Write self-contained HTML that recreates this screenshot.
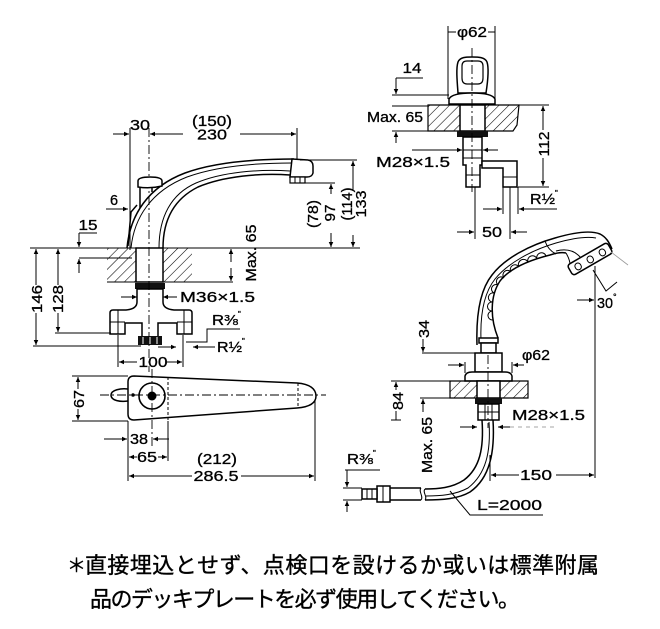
<!DOCTYPE html>
<html><head><meta charset="utf-8">
<style>
html,body{margin:0;padding:0;background:#fff}
svg{display:block}
.o{fill:none;stroke:#000;stroke-width:1.5}
.ow{fill:#fff;stroke:#000;stroke-width:1.5}
.d{fill:none;stroke:#000;stroke-width:1}
.c{fill:none;stroke:#000;stroke-width:0.9;stroke-dasharray:9 3 2 3}
.t{font-family:"Liberation Sans",sans-serif;font-size:14.5px;fill:#000;stroke:#000;stroke-width:0.3}
.j{font-family:"Liberation Sans","Noto Sans CJK JP",sans-serif;font-size:22px;fill:#000;stroke:#000;stroke-width:0.35}
</style></head>
<body>
<svg width="660" height="629" viewBox="0 0 660 629" xmlns="http://www.w3.org/2000/svg">
<defs>
<marker id="a" viewBox="0 0 10 10" refX="10" refY="5" markerWidth="8" markerHeight="5" markerUnits="userSpaceOnUse" orient="auto"><path d="M0,0.5 L10,5 L0,9.5 z" fill="#000"/></marker>
<pattern id="h" patternUnits="userSpaceOnUse" width="7" height="7" patternTransform="rotate(45)"><line x1="0" y1="0" x2="0" y2="7" stroke="#000" stroke-width="1.1"/></pattern>
</defs>

<!-- ================= FAUCET 1 (left top) ================= -->
<line class="d" x1="30" y1="248" x2="360" y2="248"/>
<path d="M107,248 H136 V282 H107 Z" fill="url(#h)"/>
<path d="M163,248 H192 V282 H163 Z" fill="url(#h)"/>
<line class="d" x1="107" y1="282" x2="233" y2="282"/>
<rect class="ow" x="136" y="248" width="27" height="34"/>
<rect x="135" y="283" width="30" height="6" fill="#111"/>
<path class="ow" d="M137,289 V302 Q137,309 126,310 H113 Q110,310 110,313 V334 H125 V323 H142 V337 H158 V323 H177 V334 H192 V313 Q192,310 189,310 H174 Q163,309 163,302 V289 Z"/>
<line class="d" x1="110" y1="322" x2="125" y2="322"/>
<line class="d" x1="177" y1="322" x2="192" y2="322"/>
<line class="d" x1="118" y1="310" x2="118" y2="334"/>
<line class="d" x1="184" y1="310" x2="184" y2="334"/>
<rect x="138" y="336" width="24" height="9" fill="#111"/>
<line x1="143" y1="337" x2="143" y2="344" stroke="#fff" stroke-width="1"/>
<line x1="150" y1="337" x2="150" y2="344" stroke="#fff" stroke-width="1"/>
<line x1="157" y1="337" x2="157" y2="344" stroke="#fff" stroke-width="1"/>
<line class="d" x1="121" y1="297" x2="137" y2="297" marker-end="url(#a)"/>
<line class="d" x1="177" y1="297" x2="163" y2="297" marker-end="url(#a)"/>
<text class="t" x="180" y="302" textLength="75" lengthAdjust="spacingAndGlyphs">M36×1.5</text>
<text class="t" x="212" y="325" textLength="26" lengthAdjust="spacingAndGlyphs">R⅜</text><text class="t" x="238" y="317" style="font-size:8px">"</text>
<polyline class="d" points="240,329 207,329 207,342 186,342"/>
<text class="t" x="217" y="352" textLength="25" lengthAdjust="spacingAndGlyphs">R½</text><text class="t" x="242" y="344" style="font-size:8px">"</text>
<line class="d" x1="215" y1="347" x2="193" y2="347" marker-end="url(#a)"/>
<line class="d" x1="158" y1="347" x2="176" y2="347" marker-end="url(#a)"/>
<line class="d" x1="33" y1="346" x2="141" y2="346"/>
<line class="d" x1="55" y1="333" x2="111" y2="333"/>
<line class="d" x1="36" y1="285" x2="36" y2="249" marker-end="url(#a)"/>
<line class="d" x1="36" y1="313" x2="36" y2="345" marker-end="url(#a)"/>
<line class="d" x1="58" y1="285" x2="58" y2="249" marker-end="url(#a)"/>
<line class="d" x1="58" y1="313" x2="58" y2="332" marker-end="url(#a)"/>
<text class="t" transform="translate(37,299) rotate(-90)" x="0" y="5" text-anchor="middle" textLength="28" lengthAdjust="spacingAndGlyphs">146</text>
<text class="t" transform="translate(58,299) rotate(-90)" x="0" y="5" text-anchor="middle" textLength="28" lengthAdjust="spacingAndGlyphs">128</text>
<line class="d" x1="118" y1="335" x2="118" y2="367"/>
<line class="d" x1="183" y1="335" x2="183" y2="367"/>
<line class="d" x1="137" y1="362" x2="119" y2="362" marker-end="url(#a)"/>
<line class="d" x1="166" y1="362" x2="182" y2="362" marker-end="url(#a)"/>
<text class="t" x="153" y="367" text-anchor="middle" textLength="29" lengthAdjust="spacingAndGlyphs">100</text>
<line class="c" x1="149" y1="128" x2="149" y2="372"/>
<path class="o" d="M127,248 C130,215 148,187 185,173 C215,162 255,159 294,159"/>
<path class="d" d="M131,248 C134,218 151,191 187,177 C217,166 255,163 292,163"/>
<path class="o" d="M163,248 C163,220 174,199 198,187 C224,176 260,173 290,175"/>
<path class="d" d="M159,248 C159,217 171,194 196,183 C222,172 258,169 290,171"/>
<path class="ow" d="M292,159 L308,160 Q313,161 313,166 L313,173 Q312,177 307,177 L290,177 Z"/>
<rect x="290" y="177" width="15" height="6" fill="#fff" stroke="#000" stroke-width="1.2"/>
<line class="d" x1="295" y1="177" x2="295" y2="183"/><line class="d" x1="300" y1="177" x2="300" y2="183"/>
<path class="ow" d="M138,187 V181 Q138,177 150,177 Q162,177 162,181 V186 Q150,189 138,187 Z"/>
<line class="o" x1="140" y1="188" x2="140" y2="208"/>
<line class="o" x1="152" y1="188" x2="152" y2="192"/>
<path class="o" d="M128,246 L131,212 L137,205"/>
<line class="d" x1="130" y1="128" x2="130" y2="250"/>
<line class="d" x1="297" y1="128" x2="297" y2="159"/>
<line class="d" x1="113" y1="134" x2="129" y2="134" marker-end="url(#a)"/>
<line class="d" x1="183" y1="134" x2="150" y2="134" marker-end="url(#a)"/>
<line class="d" x1="240" y1="134" x2="296" y2="134" marker-end="url(#a)"/>
<text class="t" x="140" y="130" text-anchor="middle" textLength="20" lengthAdjust="spacingAndGlyphs">30</text>
<text class="t" x="212" y="126" text-anchor="middle" textLength="40" lengthAdjust="spacingAndGlyphs">(150)</text>
<text class="t" x="212" y="139.5" text-anchor="middle" textLength="30" lengthAdjust="spacingAndGlyphs">230</text>
<text class="t" x="114" y="205" text-anchor="middle">6</text>
<line class="d" x1="106" y1="209" x2="128" y2="209" marker-end="url(#a)"/>
<text class="t" x="88" y="230" text-anchor="middle" textLength="19" lengthAdjust="spacingAndGlyphs">15</text>
<line class="d" x1="79" y1="233" x2="97" y2="233"/>
<line class="d" x1="79" y1="233" x2="79" y2="247" marker-end="url(#a)"/>
<line class="d" x1="79" y1="273" x2="79" y2="259" marker-end="url(#a)"/>
<line class="d" x1="79" y1="258" x2="132" y2="258"/>
<line class="d" x1="231" y1="262" x2="231" y2="249" marker-end="url(#a)"/>
<line class="d" x1="231" y1="268" x2="231" y2="281" marker-end="url(#a)"/>
<text class="t" transform="translate(251,253) rotate(-90)" x="0" y="5" text-anchor="middle" textLength="57" lengthAdjust="spacingAndGlyphs">Max. 65</text>
<line class="d" x1="290" y1="183" x2="335" y2="183"/>
<line class="d" x1="300" y1="160" x2="357" y2="160"/>
<line class="d" x1="331" y1="194" x2="331" y2="184" marker-end="url(#a)"/>
<line class="d" x1="331" y1="233" x2="331" y2="247" marker-end="url(#a)"/>
<line class="d" x1="353" y1="190" x2="353" y2="161" marker-end="url(#a)"/>
<line class="d" x1="353" y1="235" x2="353" y2="247" marker-end="url(#a)"/>
<text class="t" transform="translate(313,214) rotate(-90)" x="0" y="5" text-anchor="middle" textLength="28" lengthAdjust="spacingAndGlyphs">(78)</text>
<text class="t" transform="translate(330,213) rotate(-90)" x="0" y="5" text-anchor="middle" textLength="17" lengthAdjust="spacingAndGlyphs">97</text>
<text class="t" transform="translate(347,204) rotate(-90)" x="0" y="5" text-anchor="middle" textLength="33" lengthAdjust="spacingAndGlyphs">(114)</text>
<text class="t" transform="translate(361,204) rotate(-90)" x="0" y="5" text-anchor="middle" textLength="27" lengthAdjust="spacingAndGlyphs">133</text>

<!-- ================= PLAN VIEW ================= -->
<path class="o" d="M128,389 C121,388 111,390 111,395 C111,401 121,402 128,401"/>
<path class="ow" d="M134,376 L297,383 C310,384 316,389 316,396 C316,403 310,407 297,408 L134,420 C130,420 128,418 128,414 L128,382 C128,378 130,376 134,376 Z"/>
<circle cx="133" cy="395" r="1.8" fill="#000"/>
<circle cx="152" cy="396" r="13" fill="#fff" stroke="#000" stroke-width="1.6"/>
<circle cx="152" cy="396" r="4.5" fill="#000"/>
<line x1="168" y1="377" x2="168" y2="421" stroke="#000" stroke-width="1" stroke-dasharray="3 2"/>
<line x1="298" y1="383" x2="298" y2="408" stroke="#000" stroke-width="1" stroke-dasharray="3 2"/>
<line class="c" x1="100" y1="395" x2="326" y2="395"/>
<line class="c" x1="152" y1="369" x2="152" y2="447"/>
<line class="d" x1="72" y1="376" x2="128" y2="376"/>
<line class="d" x1="72" y1="421" x2="128" y2="421"/>
<line class="d" x1="78" y1="389" x2="78" y2="377" marker-end="url(#a)"/>
<line class="d" x1="78" y1="409" x2="78" y2="420" marker-end="url(#a)"/>
<text class="t" transform="translate(79,399) rotate(-90)" x="0" y="5" text-anchor="middle" textLength="18" lengthAdjust="spacingAndGlyphs">67</text>
<line class="d" x1="128" y1="421" x2="128" y2="481"/>
<line class="d" x1="168" y1="421" x2="168" y2="461"/>
<line class="d" x1="315" y1="400" x2="315" y2="481"/>
<line class="d" x1="104" y1="439" x2="127" y2="439" marker-end="url(#a)"/>
<line class="d" x1="169" y1="439" x2="153" y2="439" marker-end="url(#a)"/>
<text class="t" x="139" y="444" text-anchor="middle" textLength="18" lengthAdjust="spacingAndGlyphs">38</text>
<line class="d" x1="137" y1="457" x2="129" y2="457" marker-end="url(#a)"/>
<line class="d" x1="158" y1="457" x2="167" y2="457" marker-end="url(#a)"/>
<text class="t" x="147" y="462" text-anchor="middle" textLength="20" lengthAdjust="spacingAndGlyphs">65</text>
<text class="t" x="217" y="464" text-anchor="middle" textLength="40" lengthAdjust="spacingAndGlyphs">(212)</text>
<line class="d" x1="192" y1="476" x2="129" y2="476" marker-end="url(#a)"/>
<line class="d" x1="241" y1="476" x2="314" y2="476" marker-end="url(#a)"/>
<text class="t" x="216" y="481" text-anchor="middle" textLength="45" lengthAdjust="spacingAndGlyphs">286.5</text>

<!-- ================= FAUCET 2 (top right) ================= -->
<line class="d" x1="448" y1="26" x2="448" y2="99"/>
<line class="d" x1="495" y1="26" x2="495" y2="100"/>
<line class="d" x1="448" y1="32" x2="456" y2="32"/>
<line class="d" x1="488" y1="32" x2="495" y2="32"/>
<text class="t" x="472" y="37" text-anchor="middle" textLength="30" lengthAdjust="spacingAndGlyphs">φ62</text>
<path class="ow" d="M458,93 C457,80 456,68 458,62 C460,57 466,57 472,57 C478,57 485,57 487,62 C489,68 488,80 486,93 Z"/>
<path class="o" d="M462,66 Q462,61 467,61 H478 Q483,61 483,66 V78 Q483,84 478,84 H467 Q462,84 462,78 Z" style="stroke-width:1.2"/>
<path class="ow" d="M449,104 V99 Q452,93 472,93 Q492,93 495,99 V104 Z"/>
<path d="M428,105 H519 L517,125 L513,131 H428 Z" fill="url(#h)" stroke="#000" stroke-width="1.2"/>
<rect class="ow" x="460" y="105" width="25" height="26"/>
<rect x="457" y="131" width="31" height="6" fill="#111"/>
<path class="ow" d="M463,137 V165 H466 V187 H480 V165 H482 V137 Z"/>
<line class="d" x1="463" y1="150" x2="482" y2="150"/>
<line class="d" x1="463" y1="158" x2="482" y2="158"/>
<line class="d" x1="466" y1="175" x2="480" y2="175"/>
<path class="ow" d="M482,161 H517 V187 H503 V168 H482 Z"/>
<line class="d" x1="503" y1="177" x2="517" y2="177"/>
<line class="c" x1="472" y1="48" x2="472" y2="192"/>
<text class="t" x="412" y="73" text-anchor="middle" textLength="19" lengthAdjust="spacingAndGlyphs">14</text>
<line class="d" x1="396" y1="78" x2="423" y2="78"/>
<line class="d" x1="396" y1="78" x2="396" y2="94" marker-end="url(#a)"/>
<line class="d" x1="392" y1="95" x2="449" y2="95"/>
<line class="d" x1="392" y1="106" x2="428" y2="106"/>
<line class="d" x1="392" y1="131" x2="428" y2="131"/>
<line class="d" x1="396" y1="143" x2="396" y2="132" marker-end="url(#a)"/>
<text class="t" x="367" y="122" textLength="56" lengthAdjust="spacingAndGlyphs">Max. 65</text>
<line class="d" x1="412" y1="150" x2="462" y2="150" marker-end="url(#a)"/>
<line class="d" x1="498" y1="150" x2="483" y2="150" marker-end="url(#a)"/>
<text class="t" x="376" y="167" textLength="74" lengthAdjust="spacingAndGlyphs">M28×1.5</text>
<line class="d" x1="519" y1="105" x2="549" y2="105"/>
<line class="d" x1="518" y1="187" x2="549" y2="187"/>
<line class="d" x1="543" y1="130" x2="543" y2="106" marker-end="url(#a)"/>
<line class="d" x1="543" y1="158" x2="543" y2="186" marker-end="url(#a)"/>
<text class="t" transform="translate(544,144) rotate(-90)" x="0" y="5" text-anchor="middle" textLength="25" lengthAdjust="spacingAndGlyphs">112</text>
<line class="d" x1="503" y1="187" x2="503" y2="214"/>
<line class="d" x1="518" y1="187" x2="518" y2="214"/>
<line class="d" x1="483" y1="209" x2="502" y2="209" marker-end="url(#a)"/>
<line class="d" x1="557" y1="209" x2="519" y2="209" marker-end="url(#a)"/>
<text class="t" x="530" y="204" textLength="25" lengthAdjust="spacingAndGlyphs">R½</text><text class="t" x="555" y="196" style="font-size:8px">"</text>
<line class="d" x1="475" y1="187" x2="475" y2="239"/>
<line class="d" x1="510" y1="187" x2="510" y2="239"/>
<line class="d" x1="457" y1="232" x2="474" y2="232" marker-end="url(#a)"/>
<line class="d" x1="527" y1="232" x2="511" y2="232" marker-end="url(#a)"/>
<text class="t" x="492" y="237" text-anchor="middle" textLength="20" lengthAdjust="spacingAndGlyphs">50</text>

<!-- ================= FAUCET 3 (hand shower) ================= -->
<path class="o" d="M477,345 C476,315 480,290 492,275 C505,258 530,245 555,238 C572,233 590,230 600,234 C606,237 609,242 612,249"/>
<path class="d" d="M481,340 C480,313 484,293 495,279 C508,263 532,250 556,243 C570,239 585,236 596,238"/>
<path class="o" d="M498,338 C490,318 490,296 500,281 C510,268 530,260 550,255 C556,253 561,252 566,253"/>
<path class="d" d="M493,320 A4,4 0 0 1 492,311 A4,4 0 0 1 492,302 A4,4 0 0 1 494,293 A4,4 0 0 1 498,285 A4,4 0 0 1 504,278 A4,4 0 0 1 511,272 A4,4 0 0 1 519,267 A4,4 0 0 1 528,262 A4,4 0 0 1 537,259 A4,4 0 0 1 546,256"/>
<path class="d" d="M545,241 Q548,250 556,254"/>
<path class="d" d="M556,251 Q572,247 581,258"/>
<path class="d" d="M566,253 C569,258 571,264 570,270"/>
<g transform="translate(590,259) rotate(-30)">
<rect x="-23" y="-6" width="46" height="12" rx="3" fill="#fff" stroke="#000" stroke-width="1.5"/>
<rect x="-17" y="-3" width="6" height="7" rx="3" fill="none" stroke="#000" stroke-width="1"/>
<rect x="-3" y="-3" width="6" height="7" rx="3" fill="none" stroke="#000" stroke-width="1"/>
<rect x="11" y="-3" width="6" height="7" rx="3" fill="none" stroke="#000" stroke-width="1"/>
</g>
<line x1="611" y1="252" x2="628" y2="265" stroke="#999" stroke-width="0.8"/>
<line class="d" x1="595" y1="266" x2="595" y2="478"/>
<polyline class="d" points="593,270 606,291 617,282"/>
<line class="d" x1="577" y1="300" x2="594" y2="300" marker-end="url(#a)"/>
<text class="t" x="597" y="308" textLength="16" lengthAdjust="spacingAndGlyphs">30</text><text class="t" x="613" y="300" style="font-size:9px">°</text>
<rect class="ow" x="479" y="338" width="19" height="5"/>
<rect class="ow" x="481" y="343" width="15" height="10"/>
<rect class="ow" x="475" y="353" width="27" height="19"/>
<path class="ow" d="M465,381 V376 Q466,372 472,372 H505 Q511,372 512,376 V381 Z"/>
<path d="M450,381 H528 V398 H450 Z" fill="url(#h)" stroke="#000" stroke-width="1.2"/>
<rect class="ow" x="477" y="381" width="23" height="17"/>
<rect x="475" y="398" width="27" height="6" fill="#111"/>
<rect class="ow" x="478" y="404" width="21" height="16"/>
<line class="d" x1="485" y1="404" x2="485" y2="420"/>
<line class="d" x1="492" y1="404" x2="492" y2="420"/>
<line class="d" x1="478" y1="412" x2="499" y2="412"/>
<line class="c" x1="488" y1="355" x2="488" y2="428"/>
<path class="o" d="M482,420 C484,448 480,468 464,480 C452,488 438,489 425,489"/>
<path class="o" d="M493,420 C495,452 490,478 470,492 C458,499 442,500 425,500"/>
<path class="d" d="M489,422 C491,452 486,474 468,488 C455,495 440,496 426,496"/>
<path class="d" d="M425,489 c-3,3 3,8 0,11"/>
<path class="d" d="M421,488 c-3,3 3,9 0,12"/>
<line class="o" x1="390" y1="488" x2="421" y2="488"/>
<line class="o" x1="390" y1="500" x2="421" y2="500"/>
<rect class="ow" x="377" y="486" width="13" height="16"/>
<rect class="ow" x="362" y="489" width="15" height="10"/>
<line class="d" x1="367" y1="489" x2="367" y2="499"/>
<line class="d" x1="372" y1="489" x2="372" y2="499"/>
<line class="d" x1="383" y1="486" x2="383" y2="502"/>
<line class="d" x1="448" y1="365" x2="464" y2="365" marker-end="url(#a)"/>
<line class="d" x1="524" y1="365" x2="513" y2="365" marker-end="url(#a)"/>
<line class="d" x1="465" y1="362" x2="465" y2="373"/>
<line class="d" x1="512" y1="362" x2="512" y2="373"/>
<text class="t" x="522" y="360" textLength="28" lengthAdjust="spacingAndGlyphs">φ62</text>
<line class="d" x1="422" y1="353" x2="475" y2="353"/>
<line class="d" x1="423" y1="339" x2="423" y2="352" marker-end="url(#a)"/>
<text class="t" transform="translate(424,329) rotate(-90)" x="0" y="5" text-anchor="middle" textLength="18" lengthAdjust="spacingAndGlyphs">34</text>
<line class="d" x1="391" y1="381" x2="450" y2="381"/>
<line class="d" x1="396" y1="390" x2="396" y2="382" marker-end="url(#a)"/>
<line class="d" x1="396" y1="411" x2="396" y2="420"/>
<line class="d" x1="391" y1="420" x2="401" y2="420"/>
<text class="t" transform="translate(398,401) rotate(-90)" x="0" y="5" text-anchor="middle" textLength="18" lengthAdjust="spacingAndGlyphs">84</text>
<line class="d" x1="420" y1="398" x2="450" y2="398"/>
<line class="d" x1="423" y1="412" x2="423" y2="399" marker-end="url(#a)"/>
<text class="t" transform="translate(427,445) rotate(-90)" x="0" y="5" text-anchor="middle" textLength="56" lengthAdjust="spacingAndGlyphs">Max. 65</text>
<line class="d" x1="460" y1="427" x2="477" y2="427" marker-end="url(#a)"/>
<line class="d" x1="510" y1="427" x2="498" y2="427" marker-end="url(#a)"/>
<line x1="510" y1="427" x2="556" y2="427" stroke="#888" stroke-width="0.8" stroke-dasharray="4 4"/>
<text class="t" x="512" y="420" textLength="73" lengthAdjust="spacingAndGlyphs">M28×1.5</text>
<text class="t" x="347" y="464" textLength="26" lengthAdjust="spacingAndGlyphs">R⅜</text><text class="t" x="373" y="456" style="font-size:8px">"</text>
<line class="d" x1="345" y1="470" x2="380" y2="470"/>
<line class="d" x1="347" y1="470" x2="347" y2="487" marker-end="url(#a)"/>
<line class="d" x1="347" y1="512" x2="347" y2="501" marker-end="url(#a)"/>
<line class="d" x1="343" y1="488" x2="362" y2="488"/>
<line class="d" x1="343" y1="500" x2="362" y2="500"/>
<line class="d" x1="490" y1="455" x2="490" y2="481"/>
<line class="d" x1="519" y1="475" x2="491" y2="475" marker-end="url(#a)"/>
<line class="d" x1="556" y1="475" x2="594" y2="475" marker-end="url(#a)"/>
<text class="t" x="536" y="480" text-anchor="middle" textLength="32" lengthAdjust="spacingAndGlyphs">150</text>
<polyline class="d" points="450,491 470,515 543,515"/>
<text class="t" x="477" y="510" textLength="65" lengthAdjust="spacingAndGlyphs">L=2000</text>

<!-- ================= NOTE ================= -->
<text class="j" x="67" y="572" style="font-size:19px">＊</text>
<text class="j" x="85" y="573" textLength="514" lengthAdjust="spacing">直接埋込とせず、点検口を設けるか或いは標準附属</text>
<text class="j" x="90" y="607" textLength="430" lengthAdjust="spacing">品のデッキプレートを必ず使用してください。</text>
</svg>
</body></html>
